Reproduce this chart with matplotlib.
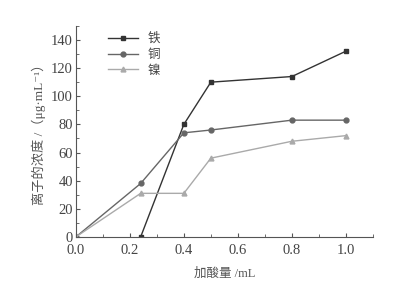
import matplotlib.pyplot as plt
from matplotlib.ticker import MultipleLocator

plt.rcParams['font.family'] = ['Liberation Serif', 'Noto Sans CJK SC', 'DejaVu Serif']

# data
acid_ml = [0.0, 0.24, 0.4, 0.5, 0.8, 1.0]
iron = [0, 0, 80, 110, 114, 132]
copper = [0, 38, 74, 76, 83, 83]
nickel = [0, 31, 31, 56, 68, 72]
labels = ["铁", "铜", "镍"]

fig = plt.figure(figsize=(3.95, 2.94), dpi=100)
ax = fig.add_axes([0.192, 0.194, 0.752, 0.718])

ax.plot(acid_ml[1:], iron[1:], color="#333333", marker="s", markersize=3.5,
        linewidth=1.0, label=labels[0])
ax.plot(acid_ml, copper, color="#666666", marker="o", markersize=3.5,
        linewidth=1.0, label=labels[1])
ax.plot(acid_ml, nickel, color="#aaaaaa", marker="^", markersize=3.5,
        linewidth=1.0, label=labels[2])

ax.set_xlim(0, 1.1)
ax.set_ylim(0, 150)
ax.xaxis.set_major_locator(MultipleLocator(0.2))
ax.xaxis.set_minor_locator(MultipleLocator(0.1))
ax.yaxis.set_major_locator(MultipleLocator(20))
ax.yaxis.set_minor_locator(MultipleLocator(10))
ax.xaxis.set_major_formatter(plt.FuncFormatter(lambda v, p: f"{v:.1f}"))
ax.tick_params(which="both", direction="in", colors="#555555", labelsize=10.5,
               labelcolor="#444444")
ax.tick_params(axis="x", pad=5)
ax.tick_params(axis="y", pad=2)
ax.tick_params(which="major", length=3)
ax.tick_params(which="minor", length=2)
for side in ["top", "right"]:
    ax.spines[side].set_visible(False)
for side in ["left", "bottom"]:
    ax.spines[side].set_color("#555555")

ax.set_xlabel("加酸量 /mL", fontsize=9, color="#555555", labelpad=8)
ax.set_ylabel("离子的浓度 /（μg·mL⁻¹）", fontsize=9.5, color="#555555",
              labelpad=4)

leg = ax.legend(loc="upper left", bbox_to_anchor=(0.07, 1.02), frameon=False,
                fontsize=9, handlelength=2.4, labelspacing=0.3)
for t in leg.get_texts():
    t.set_color("#444444")

fig.savefig("out.png", dpi=100)
